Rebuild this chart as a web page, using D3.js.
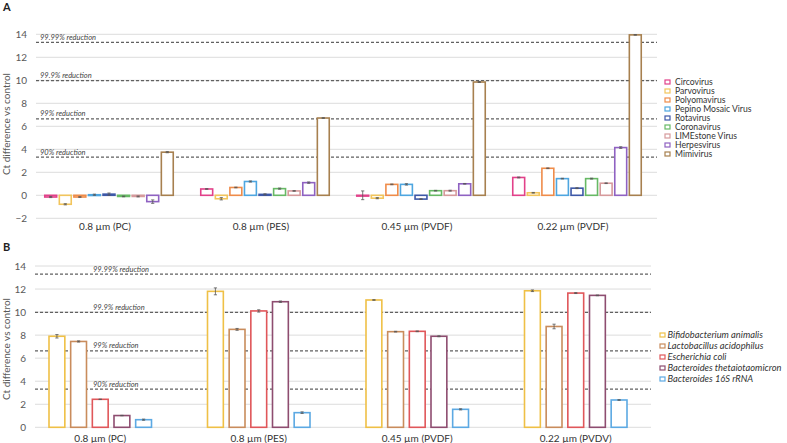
<!DOCTYPE html>
<meta charset="utf-8" />
<script src="https://d3js.org/d3.v7.min.js"></script>
<body style="margin:0;background:#fff">
<svg id="chart" width="787" height="443"></svg>
<script>
/* ── DATA ── */
const filters = ["0.8 µm (PC)", "0.8 µm (PES)", "0.45 µm (PVDF)", "0.22 µm (PVDF)"];
const filtersB = ["0.8 µm (PC)", "0.8 µm (PES)", "0.45 µm (PVDF)", "0.22 µm (PVDV)"];

const viruses = ["Circovirus","Parvovirus","Polyomavirus","Pepino Mosaic Virus","Rotavirus",
                 "Coronavirus","LIMEstone Virus","Herpesvirus","Mimivirus"];
const virusColours = ["#e2418a","#f2c55c","#ef8c4a","#4ea6e0","#3d58a8","#67b965","#d69a9c","#8f62c2","#a7804f"];
// one row per filter, one value per virus
const virusVals = [
  [-0.15,-0.78,-0.15, 0.05, 0.1,-0.1,-0.1,-0.55, 3.75],
  [ 0.55,-0.3, 0.68, 1.2, 0.08, 0.58, 0.38, 1.1, 6.72],
  [ 0.0,-0.25, 0.95, 0.95,-0.33, 0.4, 0.4, 1.0, 9.85],
  [ 1.55, 0.22, 2.35, 1.45, 0.62, 1.45, 1.05, 4.15,13.95]
];
const virusErr = [
  [0.05,0.05,0.03,0.05,0.1,0.03,0.04,0.15,0.05],
  [0.03,0.1,0.03,0.05,0.05,0.05,0.03,0.06,0.03],
  [0.38,0.05,0.03,0.06,0.03,0.03,0.04,0.03,0.04],
  [0.04,0.03,0.03,0.03,0.04,0.04,0.03,0.07,0.03]
];

const bacteria = ["Bifidobacterium animalis","Lactobacillus acidophilus","Escherichia coli",
                  "Bacteroides thetaiotaomicron","Bacteroides 16S rRNA"];
const bactColours = ["#efc046","#c98c5c","#e0575a","#8e4d70","#5ca9e3"];
const bactVals = [
  [ 7.9, 7.45, 2.43, 1.02, 0.66],
  [11.8, 8.5, 10.1, 10.9, 1.27],
  [11.05, 8.3, 8.33, 7.9, 1.56],
  [11.85, 8.75, 11.65, 11.45, 2.37]
];
const bactErr = [
  [0.15,0.05,0.02,0.02,0.05],
  [0.3,0.08,0.1,0.06,0.07],
  [0.03,0.03,0.03,0.04,0.05],
  [0.07,0.2,0.04,0.03,0.03]
];

const reductions = [
  {label:"90% reduction", v:3.32},
  {label:"99% reduction", v:6.64},
  {label:"99.9% reduction", v:9.97},
  {label:"99.99% reduction", v:13.29}
];

/* ── DRAW ── */
const svg = d3.select("#chart");
const font = "Lato, 'Open Sans', sans-serif";
const txt = "#595959";

function panel(o){
  const g = svg.append("g");
  const y = d3.scaleLinear().domain(o.ydom).range(o.yr);
  const x0 = d3.scaleBand().domain(o.cats).range(o.xr).paddingInner(0).paddingOuter(0);
  const x1 = d3.scaleBand().domain(o.series).range([0, o.groupW]).paddingInner(o.pad);

  // panel letter
  g.append("text").attr("x",3).attr("y",o.letterY).text(o.letter)
    .attr("font-family",font).attr("font-weight","bold").attr("font-size",11).attr("fill","#222");

  // gridlines
  g.append("g").selectAll("line").data(y.ticks(8)).join("line")
    .attr("x1",o.gx[0]).attr("x2",o.gx[1]).attr("y1",d=>y(d)).attr("y2",d=>y(d))
    .attr("stroke","#dcdcdc").attr("stroke-width",1);

  // y axis labels
  const ax = g.append("g").attr("transform",`translate(${o.gx[0]-9},0)`)
    .call(d3.axisLeft(y).ticks(8).tickSize(0).tickPadding(0));
  ax.select(".domain").remove();
  ax.selectAll("text").attr("font-family",font).attr("font-size",10).attr("fill",txt);

  g.append("text").attr("transform",`translate(10,${o.titleY}) rotate(-90)`)
    .attr("text-anchor","middle").attr("font-family",font).attr("font-size",10).attr("fill",txt)
    .text("Ct difference vs control");

  // reduction lines
  g.append("g").selectAll("line").data(reductions).join("line")
    .attr("x1",o.gx[0]).attr("x2",o.gx[1]).attr("y1",d=>y(d.v)).attr("y2",d=>y(d.v))
    .attr("stroke","#606060").attr("stroke-width",1.2).attr("stroke-dasharray","3,2");
  g.append("g").selectAll("text").data(reductions).join("text")
    .attr("x",o.redX).attr("y",d=>y(d.v)-2.5).text(d=>d.label)
    .attr("font-family",font).attr("font-style","italic").attr("font-size",7.5).attr("fill","#444");

  // bars
  const grp = g.append("g").selectAll("g").data(o.vals).join("g")
    .attr("transform",(d,i)=>`translate(${x0(o.cats[i]) + (x0.bandwidth()-o.groupW)/2},0)`);
  grp.each(function(row,gi){
    const s = d3.select(this);
    const data = row.map((v,k)=>({v, k, e:o.errs[gi][k]}));
    s.selectAll("rect").data(data).join("rect")
      .attr("x",d=>x1(o.series[d.k])+0.75).attr("width",x1.bandwidth()-1.5)
      .attr("y",d=>y(Math.max(0,d.v))).attr("height",d=>Math.max(0.8,Math.abs(y(d.v)-y(0))))
      .attr("fill","#fff").attr("stroke",d=>o.colours[d.k]).attr("stroke-width",1.6);
    const eb = s.selectAll("g.err").data(data).join("g").attr("class","err")
      .attr("transform",d=>`translate(${x1(o.series[d.k])+x1.bandwidth()/2},0)`);
    eb.append("line").attr("y1",d=>y(d.v-d.e)).attr("y2",d=>y(d.v+d.e))
      .attr("stroke","#555").attr("stroke-width",0.8);
    eb.selectAll("line.cap").data(d=>[d.v-d.e,d.v+d.e]).join("line").attr("class","cap")
      .attr("x1",-1.6).attr("x2",1.6).attr("y1",d=>y(d)).attr("y2",d=>y(d))
      .attr("stroke","#555").attr("stroke-width",0.8);
  });

  // category labels
  g.append("g").selectAll("text").data(o.cats).join("text")
    .attr("x",(d,i)=>x0(d)+x0.bandwidth()/2 + o.labShift).attr("y",o.labY)
    .attr("text-anchor","middle").text(d=>d)
    .attr("font-family",font).attr("font-size",10).attr("fill","#333");

  // legend
  const lg = g.append("g").selectAll("g").data(o.series).join("g")
    .attr("transform",(d,i)=>`translate(${o.legX},${o.legY + i*o.legStep})`);
  lg.append("rect").attr("x",0).attr("y",-2).attr("width",5).attr("height",4)
    .attr("fill","#fff").attr("stroke",(d,i)=>o.colours[i]).attr("stroke-width",1.2);
  lg.append("text").attr("x",o.legTx).attr("y",o.legFs*0.34).text(d=>d)
    .attr("font-family",font).attr("font-size",o.legFs).attr("fill","#333")
    .attr("font-style",o.italic?"italic":"normal");
}

panel({
  letter:"A", letterY:11, cats:filters, series:viruses, vals:virusVals, errs:virusErr, colours:virusColours,
  ydom:[-2,14], yr:[218.3,34.3], xr:[31,655], gx:[36,657], groupW:130, pad:0.08, labShift:-4,
  titleY:124, redX:40, labY:229.5, legX:665, legY:82, legStep:9, legTx:10, legFs:8.6, italic:false
});
panel({
  letter:"B", letterY:251, cats:filtersB, series:bacteria, vals:bactVals, errs:bactErr, colours:bactColours,
  ydom:[0,14], yr:[427.3,266], xr:[21,655], gx:[35,651], groupW:104, pad:0.2, labShift:0,
  titleY:349, redX:93, labY:442, legX:660, legY:335, legStep:11, legTx:7.5, legFs:9.3, italic:true
});
</script>
</body>
